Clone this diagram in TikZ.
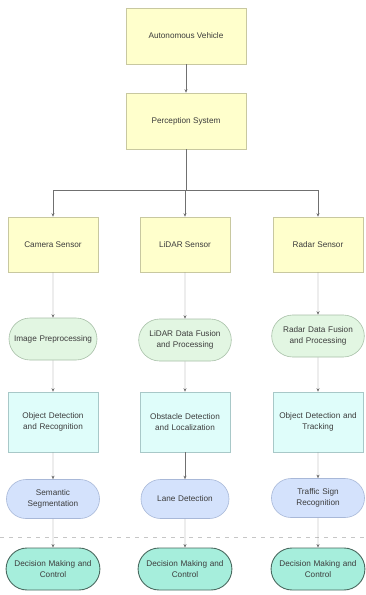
\documentclass[tikz,border=0pt]{standalone}
\usepackage{fontspec}
\setmainfont{Liberation Sans}
\usetikzlibrary{arrows.meta,shapes.misc}
\definecolor{ybox}{HTML}{FFFFCC}
\definecolor{yline}{HTML}{C8C8A0}
\definecolor{gbox}{HTML}{E2F6E2}
\definecolor{gline}{HTML}{A8C0A8}
\definecolor{cbox}{HTML}{DFFDFA}
\definecolor{cline}{HTML}{A8C8C8}
\definecolor{bbox}{HTML}{D4E2FC}
\definecolor{bline}{HTML}{A8B8D8}
\definecolor{tbox}{HTML}{A6EEDC}
\definecolor{tline}{HTML}{4A6A60}
\definecolor{txt}{HTML}{3C3C3C}
\definecolor{conn}{HTML}{707070}
\begin{document}
\begin{tikzpicture}[x=1pt,y=-1pt,
  base/.style={font=\fontsize{8.2}{11.5}\selectfont, text=txt, align=center, inner sep=1pt},
  yrect/.style={base, draw=yline, fill=ybox, line width=0.6pt, minimum width=90pt, minimum height=55pt},
  toprect/.style={yrect, minimum width=120pt, minimum height=56pt},
  gstad/.style={base, rounded rectangle, draw=gline, fill=gbox, line width=0.6pt, minimum width=90pt, minimum height=42pt, text width=86pt},
  crect/.style={base, draw=cline, fill=cbox, line width=0.6pt, minimum width=90pt, minimum height=60pt, text width=88pt},
  bstad/.style={base, rounded rectangle, draw=bline, fill=bbox, line width=0.6pt, minimum width=90pt, minimum height=39pt, text width=86pt},
  tstad/.style={base, rounded rectangle, draw=tline, fill=tbox, line width=0.9pt, minimum width=90pt, minimum height=42pt, text width=88pt},
  arr/.style={draw=conn, line width=0.45pt, -{Stealth[length=3.5pt,width=3pt]}},
  ln/.style={draw=conn, line width=0.45pt}
]
\useasboundingbox (0,0) rectangle (366,595);
\fill[white] (0,0) rectangle (366,595);
\draw[gray!45, dashed, dash pattern=on 4pt off 5pt, line width=0.5pt] (0,537) -- (366,537);

\node[toprect] (av) at (186,36) {Autonomous Vehicle};
\node[toprect] (ps) at (186,121) {Perception System};

\node[yrect] (cam) at (53,244.5) {Camera Sensor};
\node[yrect] (lid) at (185,244.5) {LiDAR Sensor};
\node[yrect] (rad) at (318,244.5) {Radar Sensor};

\node[gstad] (ip) at (53,339) {Image Preprocessing};
\node[gstad] (ldf) at (185,340) {LiDAR Data Fusion\\and Processing};
\node[gstad] (rdf) at (318,336) {Radar Data Fusion\\and Processing};

\node[crect] (odr) at (53,422) {Object Detection\\and Recognition};
\node[crect] (odl) at (185,422) {Obstacle Detection\\and Localization};
\node[crect] (odt) at (318,422) {Object Detection and\\Tracking};

\node[bstad] (ss) at (53,499) {Semantic\\Segmentation};
\node[bstad] (ld) at (185,499) {Lane Detection};
\node[bstad] (tsr) at (318,498) {Traffic Sign\\Recognition};

\node[tstad] (dm1) at (53,569) {Decision Making and\\Control};
\node[tstad] (dm2) at (185,569) {Decision Making and\\Control};
\node[tstad] (dm3) at (318,569) {Decision Making and\\Control};

\coordinate (j) at (186,190);
\draw[arr] (av) -- (ps);
\draw[ln] (ps) -- (j);
\draw[ln] (cam.north |- j) -- (rad.north |- j);
\draw[arr] (cam.north |- j) -- (cam.north);
\draw[arr] (lid.north |- j) -- (lid.north);
\draw[arr] (rad.north |- j) -- (rad.north);

\foreach \a/\b in {cam/ip,ip/odr,odr/ss,ss/dm1,lid/ldf,ldf/odl,odl/ld,ld/dm2,rad/rdf,rdf/odt,odt/tsr,tsr/dm3}
  \draw[arr] (\a) -- (\b);
\end{tikzpicture}
\end{document}
